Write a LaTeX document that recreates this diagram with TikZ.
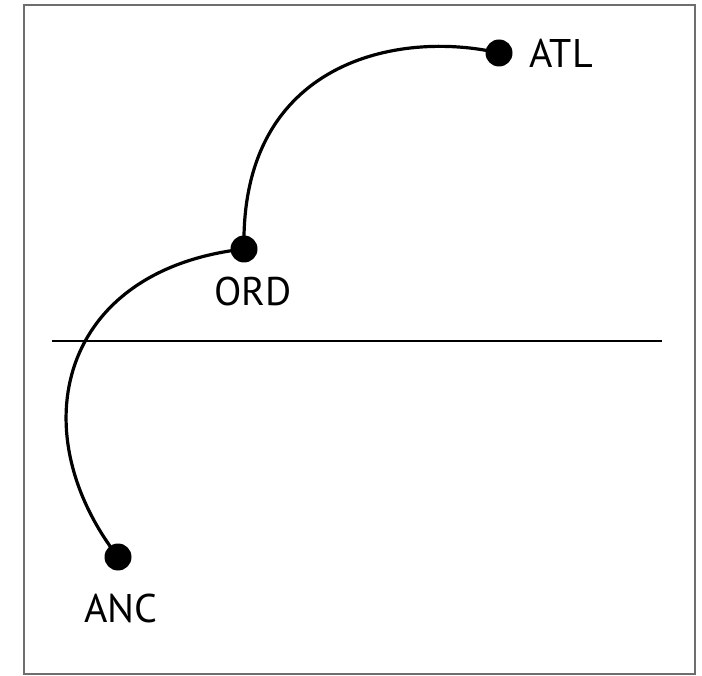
\documentclass[tikz,border=0pt]{standalone}
\usepackage{fontspec}
\setmainfont{PT Sans}
\usepackage{xcolor}
\definecolor{frameink}{RGB}{110,110,110}
\tikzset{
  city/.style={circle,fill=black,inner sep=0pt,minimum size=27pt},
  citylabel/.style={font=\fontsize{40}{44}\selectfont,inner sep=0pt},
  route/.style={line width=3.2pt}
}

\begin{document}
\begin{tikzpicture}[x=1pt,y=-1pt]
  \useasboundingbox (0,0) rectangle (702,676);
  \draw[frameink,line width=2.5pt] (24,5) rectangle (695,674);
  % horizon
  \coordinate (hl) at (52,341);
  \coordinate (hr) at (662,341);
  \draw[line width=1.5pt] (hl) -- (hr);
  % cities
  \node[city] (atl) at (499,53){};
  \node[city] (ord) at (244,249){};
  \node[city] (anc) at (118,557){};
  \node[citylabel,anchor=west] at (529,53){ATL};
  \node[citylabel] at (253,292){ORD};
  \node[citylabel] at (121,608){ANC};
  % routes
  \draw[route] (ord.center) .. controls (240,60) and (400,30) .. (atl.center);
  \draw[route] (ord.center) .. controls (60,270) and (20,430) .. (anc.center);
\end{tikzpicture}
\end{document}
